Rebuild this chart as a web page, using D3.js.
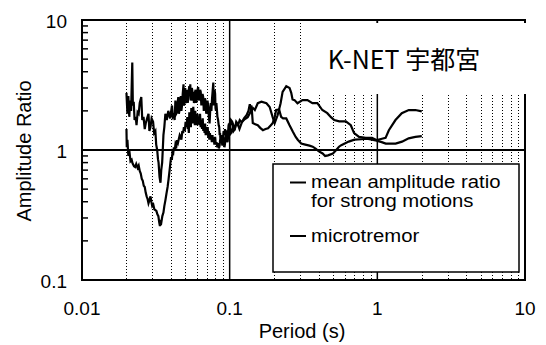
<!DOCTYPE html>
<html>
<head>
<meta charset="utf-8">
<script src="https://cdn.jsdelivr.net/npm/d3@7"></script>
<style>
body { margin: 0; background: #fff; }
svg text { font-family: "Liberation Sans", Arial, sans-serif; fill: #000; }
</style>
</head>
<body>
<div id="chart"></div>
<script>
// period (s), amplitude ratio
var strongMotion = [
  [0.0200,2.75],[0.0203,1.9],[0.0206,2.6],[0.0209,1.8],[0.0212,2.4],[0.0215,2.0],[0.0219,4.7],[0.0221,2.2],
  [0.0224,2.35],[0.0227,1.7],[0.0231,1.8],[0.0234,1.55],[0.0238,1.95],[0.0242,1.9],[0.0246,2.3],[0.0252,2.55],
  [0.0256,1.7],[0.0261,1.8],[0.0266,1.45],[0.0270,1.6],[0.0276,1.75],[0.0282,1.9],[0.0286,1.4],[0.0291,1.5],
  [0.0296,1.75],[0.0303,1.65],[0.0308,1.35],[0.0314,1.4],[0.0318,1.1],[0.0323,1.0],[0.0327,0.85],[0.0330,0.8],
  [0.0335,0.62],[0.0340,0.56],[0.0344,0.7],[0.0349,0.8],[0.0353,1.05],[0.0356,1.3],[0.0361,1.5],[0.0367,1.9],
  [0.0375,1.7],[0.0384,2.0],[0.0395,1.75],[0.0407,2.2],[0.0412,1.8],[0.0418,1.85],[0.0424,1.7],[0.0429,2.4],
  [0.0435,1.9],[0.0440,1.95],[0.0444,2.3],[0.0449,2.55],[0.0453,1.9],[0.0458,2.05],[0.0462,2.4],[0.0467,2.6],
  [0.0471,2.0],[0.0476,2.2],[0.0481,2.7],[0.0487,3.2],[0.0490,2.2],[0.0494,2.3],[0.0497,2.7],[0.0500,3.0],
  [0.0504,2.3],[0.0508,2.4],[0.0512,2.8],[0.0516,2.9],[0.0520,2.3],[0.0525,2.5],[0.0529,2.9],[0.0533,3.1],
  [0.0537,2.6],[0.0541,3.2],[0.0546,2.4],[0.0550,2.6],[0.0554,3.0],[0.0558,2.9],[0.0563,2.4],[0.0568,2.8],
  [0.0573,2.3],[0.0578,2.4],[0.0583,2.8],[0.0588,2.9],[0.0594,2.3],[0.0600,2.6],[0.0606,2.9],[0.0612,3.05],
  [0.0618,2.4],[0.0625,2.6],[0.0631,2.9],[0.0637,2.8],[0.0643,2.2],[0.0649,2.4],[0.0655,2.7],[0.0662,2.55],
  [0.0668,2.0],[0.0675,2.2],[0.0681,2.5],[0.0688,2.3],[0.0694,1.9],[0.0701,2.0],[0.0708,2.4],[0.0715,2.2],
  [0.0723,1.8],[0.0731,1.6],[0.0738,2.0],[0.0745,2.3],[0.0752,2.0],[0.0760,2.5],[0.0768,2.9],[0.0775,3.3],
  [0.0780,2.2],[0.0785,2.4],[0.0791,2.9],[0.0797,2.7],[0.0802,2.1],[0.0808,2.0],[0.0813,2.3],[0.0818,2.1],
  [0.0826,1.8],[0.0835,1.7],[0.0843,1.55],[0.0850,1.5],[0.0856,1.3],[0.0861,1.35],[0.0868,1.15],[0.0875,1.2],
  [0.0880,1.3],[0.0884,1.25],[0.0892,1.1],[0.0900,1.1],[0.0908,1.25],[0.0915,1.2],[0.0922,1.05],[0.0930,1.12],
  [0.0940,1.35],[0.0950,1.3],[0.0962,1.15],[0.0974,1.26],[0.0988,1.6],[0.1003,1.5],[0.1020,1.7],[0.1040,1.65],
  [0.1062,1.4],[0.1085,1.45],[0.1108,1.65],[0.1130,1.6],[0.1165,1.45],[0.1204,1.61],[0.1250,1.75],[0.1301,1.85],
  [0.1340,2.0],[0.1369,2.25],[0.1406,2.03],[0.1440,2.1],[0.1480,2.03],[0.1550,2.29],[0.1642,2.35],[0.1774,2.29],
  [0.1866,2.14],[0.1955,1.79],[0.2017,1.61],[0.2112,1.85],[0.2213,2.29],[0.2283,2.8],[0.2417,3.1],[0.2544,3.0],
  [0.2612,2.75],[0.2666,2.45],[0.2750,2.42],[0.2879,2.29],[0.3112,2.42],[0.3362,2.42],[0.3633,2.29],[0.3925,2.29],
  [0.4241,2.03],[0.4583,1.92],[0.4852,1.79],[0.5107,1.70],[0.5517,1.66],[0.6120,1.66],[0.6612,1.55],[0.6960,1.35],
  [0.7519,1.26],[0.8341,1.24],[0.9198,1.24],[0.9938,1.19],[1.074,1.22],[1.137,1.24],[1.197,1.42],[1.327,1.70],
  [1.464,1.92],[1.632,2.03],[1.810,2.03],[2.000,1.98]
];

var microtremor = [
  [0.0200,1.45],[0.0201,1.05],[0.0203,1.2],[0.0206,0.9],[0.0209,1.0],[0.0213,0.82],[0.0217,0.84],[0.0220,0.79],
  [0.0225,0.75],[0.0229,0.74],[0.0233,0.78],[0.0238,0.73],[0.0242,0.76],[0.0246,0.69],[0.0250,0.66],[0.0254,0.6],
  [0.0258,0.58],[0.0262,0.53],[0.0266,0.52],[0.0270,0.47],[0.0274,0.44],[0.0278,0.42],[0.0282,0.39],[0.0286,0.41],
  [0.0291,0.44],[0.0295,0.40],[0.0299,0.37],[0.0304,0.38],[0.0309,0.35],[0.0314,0.345],[0.0319,0.34],[0.0324,0.32],
  [0.0329,0.31],[0.0333,0.28],[0.0337,0.26],[0.0341,0.29],[0.0345,0.28],[0.0350,0.31],[0.0356,0.33],[0.0361,0.37],
  [0.0367,0.41],[0.0373,0.46],[0.0380,0.52],[0.0386,0.6],[0.0392,0.7],[0.0397,0.8],[0.0401,0.88],[0.0406,0.84],
  [0.0410,0.97],[0.0415,0.95],[0.0419,1.05],[0.0425,1.0],[0.0430,1.12],[0.0436,1.08],[0.0441,1.19],[0.0447,1.14],
  [0.0453,1.22],[0.0459,1.3],[0.0465,1.26],[0.0471,1.2],[0.0478,1.4],[0.0484,1.35],[0.0490,1.5],[0.0497,1.4],
  [0.0503,1.65],[0.0510,1.5],[0.0517,1.79],[0.0521,1.45],[0.0525,1.6],[0.0529,1.35],[0.0533,1.95],[0.0537,1.6],
  [0.0541,1.8],[0.0546,1.5],[0.0550,2.1],[0.0554,1.7],[0.0558,1.95],[0.0563,1.6],[0.0567,2.15],[0.0572,1.8],
  [0.0576,1.9],[0.0581,1.55],[0.0585,2.0],[0.0590,1.6],[0.0595,1.8],[0.0600,1.55],[0.0605,1.9],[0.0611,1.6],
  [0.0617,1.8],[0.0623,1.55],[0.0630,1.9],[0.0636,1.5],[0.0643,1.7],[0.0650,1.45],[0.0657,1.75],[0.0663,1.4],
  [0.0670,1.6],[0.0676,1.35],[0.0682,1.6],[0.0688,1.3],[0.0695,1.5],[0.0702,1.3],[0.0710,1.5],[0.0716,1.25],
  [0.0722,1.4],[0.0728,1.2],[0.0735,1.35],[0.0742,1.2],[0.0750,1.3],[0.0757,1.15],[0.0765,1.3],[0.0772,1.15],
  [0.0780,1.25],[0.0788,1.1],[0.0797,1.26],[0.0806,1.1],[0.0815,1.15],[0.0825,1.05],[0.0835,1.13],[0.0845,1.03],
  [0.0855,1.08],[0.0862,1.2],[0.0870,1.15],[0.0877,1.3],[0.0884,1.2],[0.0892,1.1],[0.0900,1.2],[0.0910,1.4],
  [0.0920,1.3],[0.0930,1.45],[0.0940,1.3],[0.0955,1.42],[0.0965,1.15],[0.0975,1.25],[0.0987,1.55],[0.1000,1.6],
  [0.1020,1.35],[0.1040,1.4],[0.1062,1.55],[0.1085,1.47],[0.1110,1.6],[0.1140,1.55],[0.1170,1.7],[0.1204,1.64],
  [0.1260,1.72],[0.1325,1.79],[0.1380,1.95],[0.1406,2.2],[0.1434,1.61],[0.1490,1.58],[0.1550,1.55],[0.1610,1.48],
  [0.1680,1.42],[0.1750,1.45],[0.1820,1.47],[0.1900,1.55],[0.1955,1.61],[0.2010,1.75],[0.2064,2.03],[0.2163,2.05],
  [0.2230,1.8],[0.2300,1.75],[0.2417,1.75],[0.2544,1.55],[0.2680,1.38],[0.2800,1.26],[0.2890,1.2],[0.3050,1.12],
  [0.3250,1.1],[0.3470,1.08],[0.3650,1.06],[0.3840,1.02],[0.4000,0.98],[0.4260,0.94],[0.4430,0.9],[0.4630,0.91],
  [0.5000,0.94],[0.5270,1.0],[0.5500,1.06],[0.5700,1.09],[0.6400,1.16],[0.7000,1.2],[0.7800,1.21],[0.8500,1.22],
  [0.9200,1.2],[0.9900,1.18],[1.0700,1.15],[1.1400,1.12],[1.3300,1.12],[1.4700,1.16],[1.6300,1.23],[1.8100,1.26],
  [2.0000,1.28]
];

var xTicks = [0.01, 0.1, 1, 10];
var xTickLabels = ["0.01", "0.1", "1", "10"];
var yTicks = [0.1, 1, 10];
var yTickLabels = ["0.1", "1", "10"];
var dottedPeriods = [0.02,0.03,0.04,0.05,0.06,0.07,0.08,0.09,0.2,0.3,0.4,0.5,0.6,0.7,0.8,0.9,2,3,4,5,6,7,8,9];
var minorAmps = [0.2,0.3,0.4,0.5,0.6,0.7,0.8,0.9,2,3,4,5,6,7,8,9];
var stationName = "K-NET 宇都宮";
var legendLines = [["mean amplitude ratio", "for strong motions"], ["microtremor"]];

var width = 546, height = 345;

var svg = d3.select("#chart").append("svg")
  .attr("width", width)
  .attr("height", height);

var x = d3.scaleLog().domain([0.01, 10]).range([82, 525]);
var y = d3.scaleLog().domain([0.1, 10]).range([280, 20]);

// dotted period lines
svg.selectAll(".dot-grid")
  .data(dottedPeriods)
  .enter()
  .append("line")
  .attr("x1", d => Math.round(x(d)) + 0.5)
  .attr("x2", d => Math.round(x(d)) + 0.5)
  .attr("y1", y(10))
  .attr("y2", y(0.1))
  .attr("stroke", "#000")
  .attr("stroke-width", 1)
  .attr("stroke-dasharray", "1,2");

// solid decade lines
svg.selectAll(".major-x")
  .data([0.1, 1])
  .enter()
  .append("line")
  .attr("x1", d => x(d))
  .attr("x2", d => x(d))
  .attr("y1", y(10))
  .attr("y2", y(0.1))
  .attr("stroke", "#000")
  .attr("stroke-width", 1.5);

svg.append("line")
  .attr("x1", x(0.01)).attr("x2", x(10))
  .attr("y1", y(1)).attr("y2", y(1))
  .attr("stroke", "#000")
  .attr("stroke-width", 2);

// minor ticks on left axis
svg.selectAll(".minor-y")
  .data(minorAmps)
  .enter()
  .append("line")
  .attr("x1", x(0.01))
  .attr("x2", x(0.01) + 6)
  .attr("y1", d => y(d))
  .attr("y2", d => y(d))
  .attr("stroke", "#000")
  .attr("stroke-width", 1.5);

// curves
var line = d3.line()
  .x(d => x(d[0]))
  .y(d => y(d[1]));

[strongMotion, microtremor].forEach(function(series) {
  svg.append("path")
    .datum(series)
    .attr("d", line)
    .attr("fill", "none")
    .attr("stroke", "#000")
    .attr("stroke-width", 2.2);
});

// frame
svg.append("rect")
  .attr("x", x(0.01))
  .attr("y", y(10))
  .attr("width", x(10) - x(0.01))
  .attr("height", y(0.1) - y(10))
  .attr("fill", "none")
  .attr("stroke", "#000")
  .attr("stroke-width", 2);

svg.append("line")
  .attr("x1", x(1)).attr("x2", x(1))
  .attr("y1", y(10)).attr("y2", y(10) + 4)
  .attr("stroke", "#000")
  .attr("stroke-width", 1.5);

// station name box
svg.append("rect")
  .attr("x", 306).attr("y", 23)
  .attr("width", 226).attr("height", 71)
  .attr("fill", "#fff");

svg.append("text")
  .attr("x", 404)
  .attr("y", 69)
  .attr("text-anchor", "middle")
  .style("font-family", "'Noto Sans CJK JP', sans-serif")
  .style("font-size", "25px")
  .text(stationName);

// legend
svg.append("rect")
  .attr("x", 273).attr("y", 164)
  .attr("width", 246).attr("height", 108)
  .attr("fill", "#fff")
  .attr("stroke", "#000")
  .attr("stroke-width", 1.5);

var legendY = [182.5, 236];
var legendBase = [[188, 207], [242]];
legendLines.forEach(function(lines, i) {
  svg.append("line")
    .attr("x1", 290).attr("x2", 306)
    .attr("y1", legendY[i]).attr("y2", legendY[i])
    .attr("stroke", "#000")
    .attr("stroke-width", 2);
  lines.forEach(function(t, j) {
    svg.append("text")
      .attr("transform", "translate(311," + legendBase[i][j] + ") scale(1.16,1)")
      .style("font-size", "17.5px")
      .text(t);
  });
});

// tick labels
svg.selectAll(".xlab")
  .data(xTicks)
  .enter()
  .append("text")
  .attr("x", d => x(d))
  .attr("y", 315)
  .attr("text-anchor", "middle")
  .style("font-size", "19px")
  .text((d, i) => xTickLabels[i]);

svg.selectAll(".ylab")
  .data(yTicks)
  .enter()
  .append("text")
  .attr("x", 67)
  .attr("y", d => y(d) + 8)
  .attr("text-anchor", "end")
  .style("font-size", "19px")
  .text((d, i) => yTickLabels[i]);

svg.append("text")
  .attr("x", 302)
  .attr("y", 338)
  .attr("text-anchor", "middle")
  .style("font-size", "20px")
  .text("Period (s)");

svg.append("text")
  .attr("transform", "translate(31,151) rotate(-90)")
  .attr("text-anchor", "middle")
  .style("font-size", "20px")
  .text("Amplitude Ratio");
</script>
</body>
</html>
